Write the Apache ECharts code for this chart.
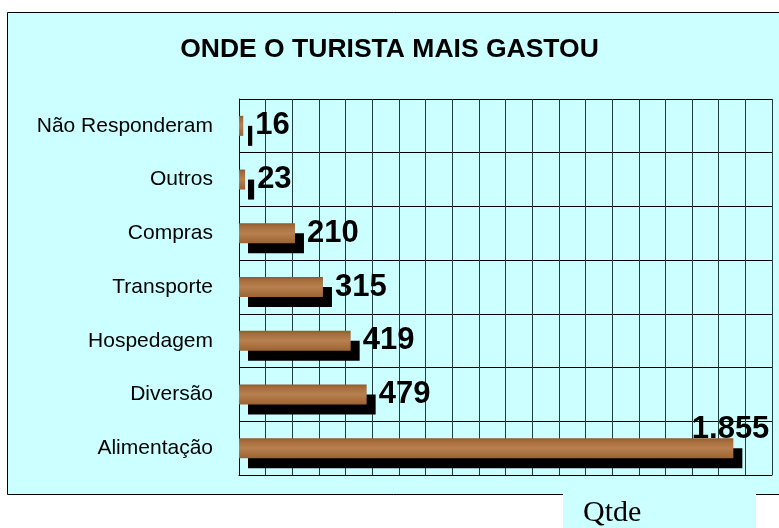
<!DOCTYPE html>
<html>
<head>
<meta charset="utf-8">
<script src="https://cdn.jsdelivr.net/npm/echarts@6/dist/echarts.min.js"></script>
<style>
  html, body { margin: 0; padding: 0; background: #fff; }
  #chart { width: 779px; height: 528px; }
</style>
</head>
<body>
<div id="chart"></div>
<script>
// dados (de cima para baixo)
var categorias = ['Não Responderam', 'Outros', 'Compras', 'Transporte', 'Hospedagem', 'Diversão', 'Alimentação'];
var qtde = [16, 23, 210, 315, 419, 479, 1855];
var eixoMax = 2000;
var eixoPasso = 100;

function formatarNum(v) {
	return String(v).replace(/\B(?=(\d{3})+(?!\d))/g, '.');
}

var chart = echarts.init(document.getElementById('chart'));

var barraCor = new echarts.graphic.LinearGradient(0, 0, 0, 1, [
	{ offset: 0, color: '#8e5a2c' },
	{ offset: 0.15, color: '#a56b3c' },
	{ offset: 0.5, color: '#b8804f' },
	{ offset: 1, color: '#9c6232' }
]);

var dadosSerie = [];
for (var i = 0; i < qtde.length; i++) {
	var item = { value: qtde[i] };
	// o maior valor fica com o rótulo por cima da barra
	if (qtde[i] == Math.max.apply(null, qtde)) {
		item.label = { position: 'insideRight', offset: [48, -19] };
	}
	dadosSerie.push(item);
}

var option = {
	animation: false,
	graphic: [{
		type: 'rect',
		z: -10,
		shape: { x: 7.5, y: 12.5, width: 800, height: 482 },
		style: { fill: '#ccffff', stroke: '#000', lineWidth: 1 }
	}, {
		type: 'rect',
		z: -5,
		shape: { x: 563, y: 494, width: 193, height: 40 },
		style: { fill: '#ccffff' }
	}, {
		type: 'text',
		z: -4,
		left: 583,
		top: 498,
		style: {
			text: 'Qtde',
			font: '30px "Liberation Serif", "Times New Roman", serif',
			fill: '#000'
		}
	}],
	title: {
		text: 'ONDE O TURISTA MAIS GASTOU',
		left: 'center',
		top: 31,
		textStyle: {
			fontFamily: '"Liberation Sans", Arial, sans-serif',
			fontSize: 26.5,
			fontWeight: 'bold',
			color: '#000'
		}
	},
	grid: {
		left: 239,
		right: 7,
		top: 99,
		bottom: 53
	},
	xAxis: {
		type: 'value',
		min: 0,
		max: eixoMax,
		interval: eixoPasso,
		axisLabel: { show: false },
		axisTick: { show: false },
		axisLine: { show: true, lineStyle: { color: '#000', width: 1 } },
		splitLine: { show: true, lineStyle: { color: '#1f3d3d', width: 1 } }
	},
	yAxis: {
		type: 'category',
		data: categorias,
		inverse: true,
		axisTick: { show: false },
		axisLine: { show: true, lineStyle: { color: '#000', width: 1 } },
		axisLabel: {
			margin: 26,
			fontFamily: '"Liberation Sans", Arial, sans-serif',
			fontSize: 21,
			color: '#000'
		},
		splitLine: { show: true, lineStyle: { color: '#000', width: 1 } }
	},
	series: [{
		name: 'Qtde',
		type: 'bar',
		barWidth: 20,
		data: dadosSerie,
		itemStyle: {
			color: barraCor,
			shadowColor: '#000',
			shadowBlur: 0,
			shadowOffsetX: 9,
			shadowOffsetY: 10
		},
		label: {
			show: true,
			position: 'right',
			distance: 12,
			formatter: function(p) { return formatarNum(p.value); },
			fontFamily: '"Liberation Sans", Arial, sans-serif',
			fontSize: 31,
			fontWeight: 'bold',
			color: '#000'
		}
	}]
};
chart.setOption(option);
</script>
</body>
</html>
